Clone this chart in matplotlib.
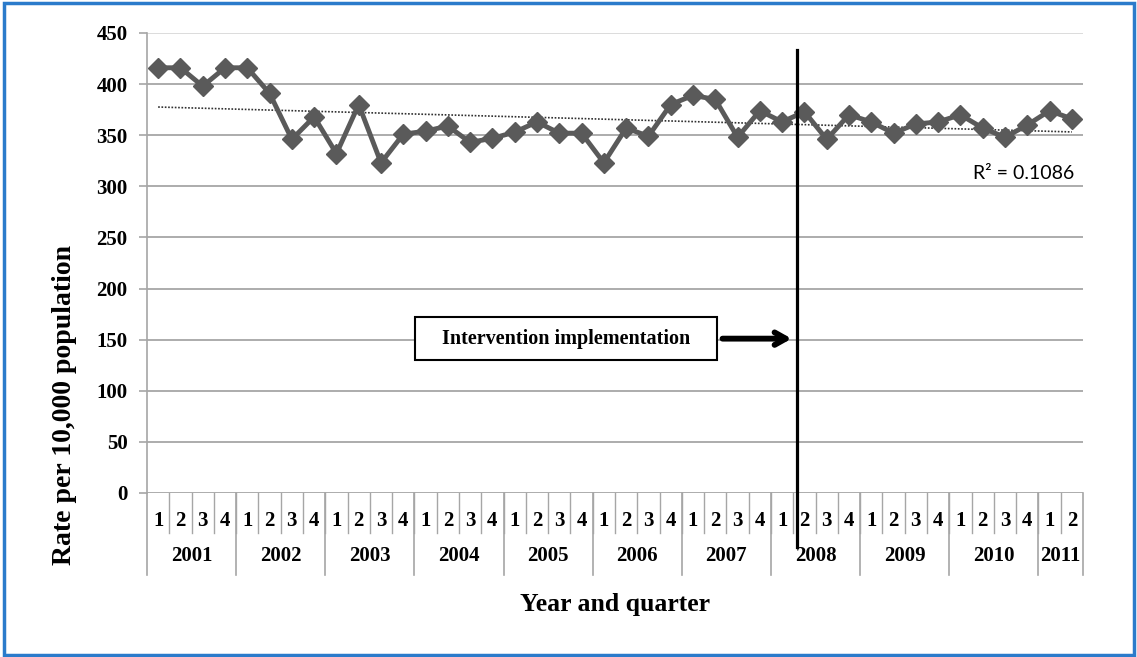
import numpy as np
import matplotlib.pyplot as plt
import matplotlib.patches as patches

# data (rate per 10,000 population, by quarter)
years = ["2001", "2002", "2003", "2004", "2005", "2006",
         "2007", "2008", "2009", "2010", "2011"]
quarters_per_year = [4, 4, 4, 4, 4, 4, 4, 4, 4, 4, 2]
rates = [416, 416, 398, 416, 416, 391, 346, 368, 332, 380,
         323, 351, 354, 359, 343, 347, 353, 363, 352, 352,
         323, 357, 349, 380, 389, 385, 348, 374, 363, 373,
         346, 370, 363, 352, 361, 363, 370, 357, 348, 360,
         374, 366]
r2_label = "R\u00b2 = 0.1086"
intervention_pos = 28.65   # between 2008 Q1 and Q2

quarter_labels = []
for n in quarters_per_year:
    quarter_labels += [str(q) for q in range(1, n + 1)]

x = np.arange(len(rates))
serif = "Liberation Serif"

fig = plt.figure(figsize=(11.37, 6.57), dpi=100)
ax = fig.add_axes([147 / 1137, 1 - 493 / 657, 936 / 1137, 460 / 657])

# gridlines
for v in range(50, 451, 50):
    ax.axhline(v, color="#D9D9D9" if v == 450 else "#A6A6A6", lw=1.3, zorder=1)
ax.axhline(0, color="#A6A6A6", lw=1.3, zorder=1)

# trend line
coef = np.polyfit(x, rates, 1)
ax.plot(x, np.polyval(coef, x), color="#303030", lw=1.2, ls=(0, (1, 1)), zorder=2)

# main series
ax.plot(x, rates, color="#5A5A5A", lw=3.5, marker="D", markersize=10.5,
        markeredgecolor="#5A5A5A", zorder=3)

ax.set_xlim(-0.5, len(rates) - 0.5)
ax.set_ylim(0, 450)
ax.set_yticks(range(0, 451, 50))
ax.set_yticklabels([str(v) for v in range(0, 451, 50)], fontfamily=serif,
                   fontweight="bold", fontsize=15)
ax.tick_params(axis="y", length=6, color="#A6A6A6", width=1.2, pad=8)
ax.set_xticks([])

for s in ["top", "right", "bottom"]:
    ax.spines[s].set_visible(False)
ax.spines["left"].set_color("#A6A6A6")
ax.spines["left"].set_linewidth(1.2)

# category table below the axis
tr = ax.get_xaxis_transform()
ax.plot([-0.5, -0.5], [0, -0.178], transform=tr, color="#A6A6A6", lw=1.2, clip_on=False)
ax.plot([x[-1] + 0.5] * 2, [0, -0.178], transform=tr, color="#A6A6A6", lw=1.2, clip_on=False)
for i, lab in enumerate(quarter_labels):
    ax.text(i, -0.061, lab, transform=tr, ha="center", va="center",
            fontfamily=serif, fontweight="bold", fontsize=15)
    if i > 0:
        ax.plot([i - 0.5, i - 0.5], [0, -0.087], transform=tr, color="#A6A6A6",
                lw=1.0, clip_on=False)
start = 0
for yr, n in zip(years, quarters_per_year):
    ax.text(start + (n - 1) / 2, -0.137, yr, transform=tr, ha="center", va="center",
            fontfamily=serif, fontweight="bold", fontsize=15)
    if start > 0:
        ax.plot([start - 0.5] * 2, [0, -0.178], transform=tr, color="#A6A6A6",
                lw=1.2, clip_on=False)
    start += n

# intervention line
ax.plot([intervention_pos] * 2, [433, -53], color="black", lw=2.3, clip_on=False, zorder=4)

# label box and arrow
box = patches.Rectangle((11.52, 129.7), 13.55, 42.2, facecolor="white",
                        edgecolor="black", lw=1.5, zorder=5)
ax.add_patch(box)
ax.text(18.3, 151, "Intervention implementation", ha="center", va="center",
        fontfamily=serif, fontweight="bold", fontsize=14.5, zorder=6)
ax.annotate("", xy=(intervention_pos - 0.1, 151), xytext=(25.2, 151),
            arrowprops=dict(arrowstyle="->,head_length=0.8,head_width=0.45",
                            lw=4.2, color="black"), zorder=6)

ax.text(41.1, 313, r2_label, ha="right", va="center", fontfamily="Lato", fontsize=14)

# axis titles
fig.text(65 / 1137, 1 - 405 / 657, "Rate per 10,000 population", rotation=90,
         ha="center", va="center", fontfamily=serif, fontweight="bold", fontsize=20)
fig.text(615 / 1137, 1 - 605 / 657, "Year and quarter", ha="center", va="center",
         fontfamily=serif, fontweight="bold", fontsize=18.5)

# blue outer frame
fig.patches.append(patches.Rectangle((4 / 1137, 2 / 657), 1130 / 1137, 652 / 657,
                                     fill=False, edgecolor="#2B7BCB", lw=2.5,
                                     transform=fig.transFigure))

fig.savefig("out.png", dpi=100)
